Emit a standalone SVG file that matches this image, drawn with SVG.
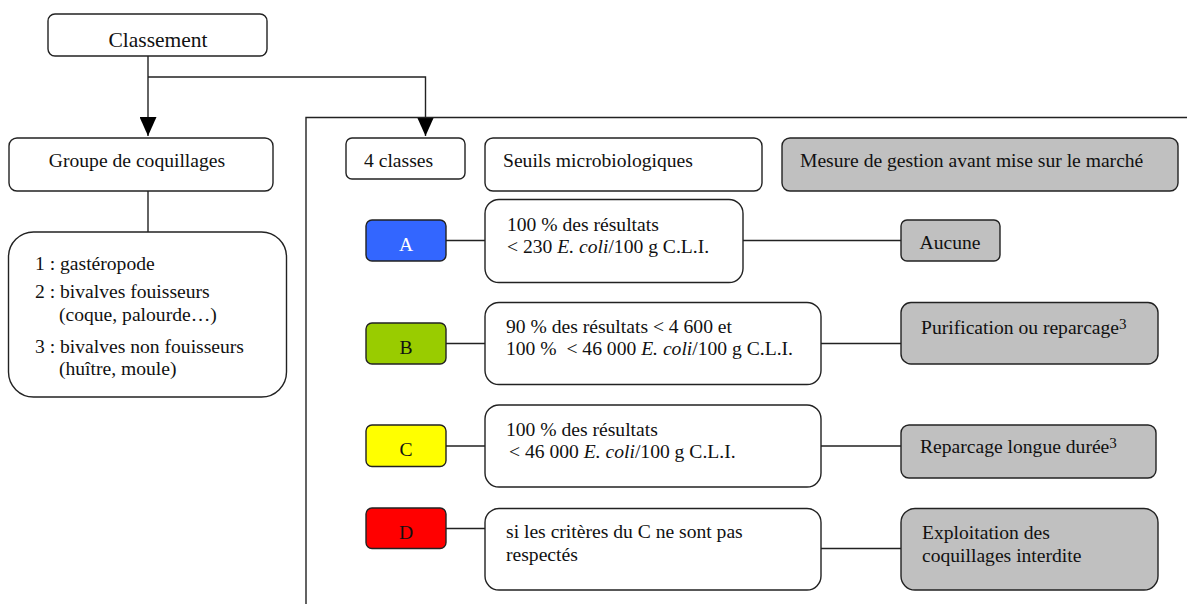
<svg xmlns="http://www.w3.org/2000/svg" width="1187" height="604" viewBox="0 0 1187 604" font-family="'Liberation Serif', 'Times New Roman', serif">
<style>
.box{fill:#fff;stroke:#222;stroke-width:1.4}
.gray{fill:#c0c0c0;stroke:#222;stroke-width:1.4}
.ln{fill:none;stroke:#222;stroke-width:1.4}
text{font-family:'Liberation Serif','Times New Roman',serif;font-size:19.6px;fill:#111}
.big{font-size:21.5px}
.mid{text-anchor:middle}
.it{font-style:italic}
.sup{font-size:15px}
</style>
<defs>
<marker id="arr" markerUnits="userSpaceOnUse" markerWidth="20" markerHeight="17" refX="19" refY="8.5" orient="auto">
<path d="M0,0 L19,8.5 L0,17 z" fill="#000"/>
</marker>
</defs>
<rect width="1187" height="604" fill="#fff"/>

<g id="connectors">
<path class="ln" d="M148,56 V136"  marker-end="url(#arr)"/>
<path class="ln" d="M148,77 H425.5 V136" marker-end="url(#arr)"/>
<path class="ln" d="M148,191 V232"/>
<path class="ln" d="M306,604 V117.5 H1187"/>
<path class="ln" d="M446,240.5 H485 M743,240.5 H901"/>
<path class="ln" d="M446,343.5 H485 M821,343.5 H901"/>
<path class="ln" d="M446,446 H485 M821,446 H901"/>
<path class="ln" d="M446,528.5 H485 M821,548.5 H901"/>
</g>

<g id="classement">
<rect class="box" x="48" y="14" width="219" height="42" rx="7"/>
<text class="big mid" x="158" y="47">Classement</text>
</g>

<g id="groupe">
<rect class="box" x="9" y="138" width="264" height="53" rx="8"/>
<text class="mid" x="137" y="167">Groupe de coquillages</text>
</g>

<g id="liste">
<rect class="box" x="8.5" y="232" width="278" height="165" rx="25"/>
<text x="35" y="270">1 : gastéropode</text>
<text x="35" y="298">2 : bivalves fouisseurs</text>
<text x="59" y="321">(coque, palourde…)</text>
<text x="35" y="353">3 : bivalves non fouisseurs</text>
<text x="59" y="375">(huître, moule)</text>
</g>

<g id="classes4">
<rect class="box" x="346" y="138" width="119" height="41" rx="6"/>
<text x="364" y="167">4 classes</text>
</g>

<g id="seuils">
<rect class="box" x="485" y="138" width="277" height="53" rx="8"/>
<text x="503" y="167">Seuils microbiologiques</text>
</g>

<g id="mesure">
<rect class="gray" x="782" y="138" width="396" height="53" rx="8"/>
<text x="800" y="167">Mesure de gestion avant mise sur le marché</text>
</g>

<g id="classeA">
<rect x="366" y="220" width="80" height="41" rx="6" fill="#3366ff" stroke="#222" stroke-width="1.4"/>
<text class="mid" x="406" y="251" style="fill:#fff">A</text>
</g>
<g id="seuilA">
<rect class="box" x="485" y="199.5" width="258" height="83" rx="14"/>
<text x="507" y="231">100 % des résultats</text>
<text x="507" y="253">&lt; 230 <tspan class="it">E. coli</tspan>/100 g C.L.I.</text>
</g>
<g id="mesureA">
<rect class="gray" x="901" y="220" width="99" height="41" rx="6"/>
<text class="mid" x="950" y="249">Aucune</text>
</g>

<g id="classeB">
<rect x="366" y="323" width="80" height="41" rx="6" fill="#99cc00" stroke="#222" stroke-width="1.4"/>
<text class="mid" x="406" y="354">B</text>
</g>
<g id="seuilB">
<rect class="box" x="485" y="302.5" width="336" height="82" rx="14"/>
<text x="506" y="333">90 % des résultats &lt; 4 600 et</text>
<text x="506" y="355" xml:space="preserve">100 %  &lt; 46 000 <tspan class="it">E. coli</tspan>/100 g C.L.I.</text>
</g>
<g id="mesureB">
<rect class="gray" x="901" y="302.5" width="257" height="61.5" rx="10"/>
<text x="921" y="333.5">Purification ou reparcage<tspan class="sup" dy="-5">3</tspan></text>
</g>

<g id="classeC">
<rect x="366" y="425" width="80" height="41.5" rx="6" fill="#ffff00" stroke="#222" stroke-width="1.4"/>
<text class="mid" x="406" y="456">C</text>
</g>
<g id="seuilC">
<rect class="box" x="485" y="405" width="336" height="82" rx="14"/>
<text x="506" y="436">100 % des résultats</text>
<text x="509" y="458">&lt; 46 000 <tspan class="it">E. coli</tspan>/100 g C.L.I.</text>
</g>
<g id="mesureC">
<rect class="gray" x="901" y="425" width="255" height="53" rx="8"/>
<text x="920" y="453">Reparcage longue durée<tspan class="sup" dy="-5">3</tspan></text>
</g>

<g id="classeD">
<rect x="366" y="508" width="80" height="40.5" rx="6" fill="#ff0000" stroke="#222" stroke-width="1.4"/>
<text class="mid" x="406" y="539">D</text>
</g>
<g id="seuilD">
<rect class="box" x="485" y="508.5" width="336" height="81.5" rx="14"/>
<text x="506" y="538">si les critères du C ne sont pas</text>
<text x="506" y="561">respectés</text>
</g>
<g id="mesureD">
<rect class="gray" x="901" y="508.5" width="257" height="81.5" rx="14"/>
<text x="922" y="539">Exploitation des</text>
<text x="922" y="562">coquillages interdite</text>
</g>
</svg>
